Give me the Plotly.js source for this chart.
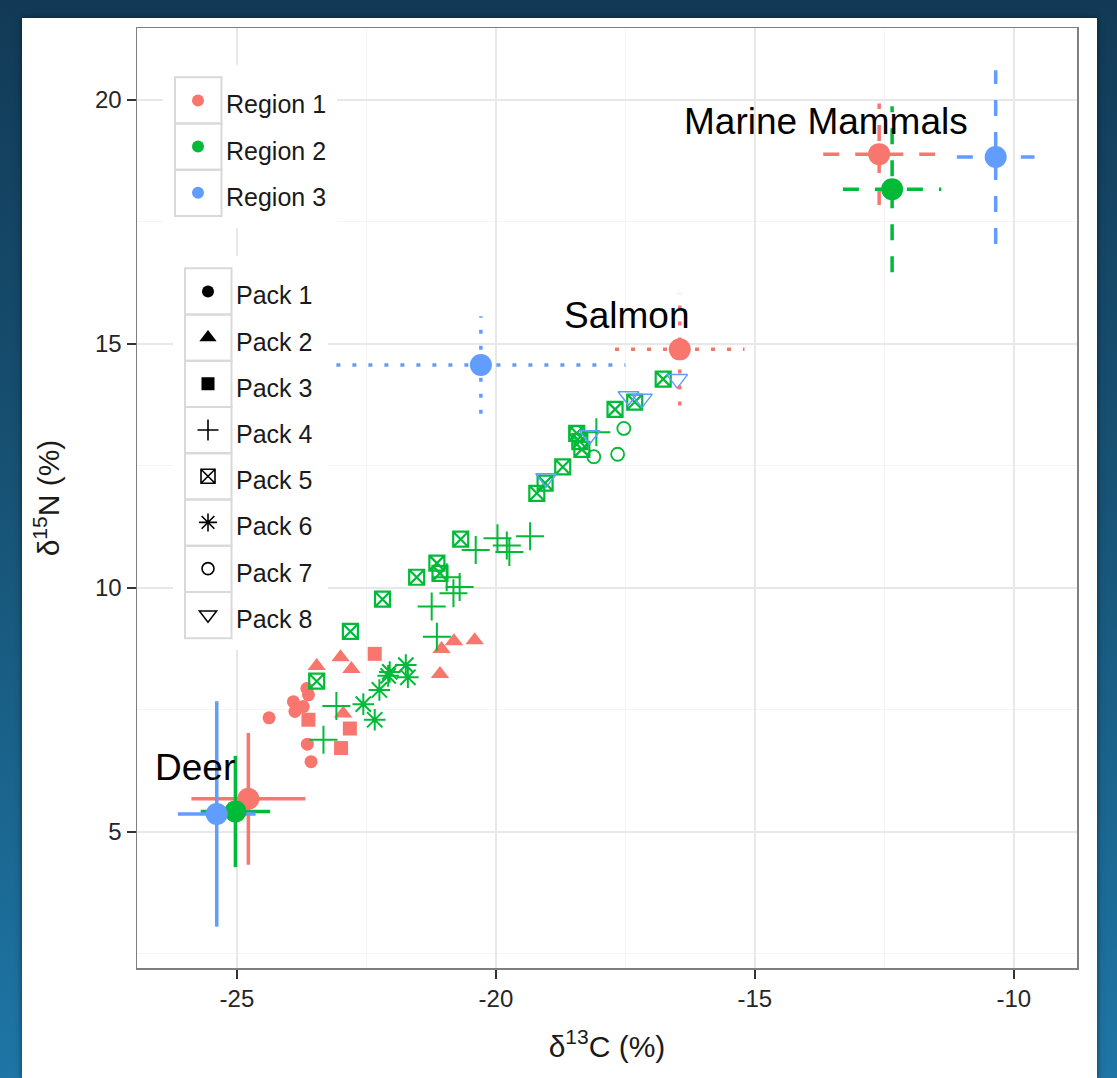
<!DOCTYPE html>
<html><head><meta charset="utf-8">
<script src="https://cdn.plot.ly/plotly-3.0.1.min.js"></script>
<style>
html,body{margin:0;padding:0;width:1117px;height:1078px;overflow:hidden;
background:linear-gradient(180deg,#123a56 0%,#175274 45%,#1e76a6 100%);}
#panel{position:absolute;left:22px;top:18px;width:1075px;height:1060px;background:#fff;box-shadow:0 0 6px rgba(0,0,0,0.5);}
#chart{width:1075px;height:1060px;}
</style></head><body><div id="panel"><div id="chart"></div></div>
<script>
// ---------- data ----------
const regionNames = ['Region 1', 'Region 2', 'Region 3'];
const packNames = ['Pack 1', 'Pack 2', 'Pack 3', 'Pack 4', 'Pack 5', 'Pack 6', 'Pack 7', 'Pack 8'];
const packRegion = [0, 0, 0, 1, 1, 1, 1, 2];

const pack1C = [-24.38, -23.91, -23.88, -23.72, -23.65, -23.62, -23.64, -23.57];
const pack1N = [7.34, 7.67, 7.47, 7.57, 7.94, 7.81, 6.80, 6.44];
const pack2C = [-23.46, -23.00, -22.79, -22.95, -21.05, -20.81, -20.41, -21.08];
const pack2N = [8.40, 8.58, 8.34, 7.43, 8.75, 8.91, 8.93, 8.24];
const pack3C = [-22.34, -23.62, -22.82, -22.99];
const pack3N = [8.65, 7.30, 7.12, 6.72];
const pack4C = [-23.33, -23.08, -21.14, -21.24, -20.82, -20.70, -20.95, -20.39, -19.97, -19.79, -19.74, -19.34, -18.06];
const pack4N = [6.89, 7.58, 9.00, 9.62, 9.89, 10.02, 10.22, 10.78, 11.02, 10.87, 10.74, 11.06, 13.19];
const pack5C = [-23.46, -22.81, -22.19, -21.53, -21.14, -21.08, -20.68, -19.21, -19.05, -18.71, -18.44, -18.38, -18.34, -17.70, -17.32, -16.77];
const pack5N = [8.09, 9.11, 9.77, 10.22, 10.51, 10.30, 11.00, 11.94, 12.15, 12.48, 13.17, 13.00, 12.84, 13.66, 13.81, 14.28];
const pack6C = [-22.56, -22.34, -22.25, -22.08, -22.05, -21.74, -21.70];
const pack6N = [7.62, 7.30, 7.91, 8.20, 8.28, 8.42, 8.17];
const pack7C = [-17.53, -17.65, -18.11, -18.45];
const pack7N = [13.27, 12.74, 12.69, 13.19];
const pack8C = [-19.03, -18.19, -17.44, -17.18, -16.50];
const pack8N = [12.25, 13.13, 13.93, 13.88, 14.28];

// prey sources: Deer, Salmon, Marine Mammals (mean and SD per region)
const sources = ['Deer', 'Salmon', 'Marine Mammals'];
const r1MeanC = [-24.78, -16.45, -12.60];
const r1MeanN = [5.68, 14.89, 18.89];
const r1SdC = [1.10, 1.25, 1.08];
const r1SdN = [1.35, 1.15, 1.04];
const r2MeanC = [-25.03, null, -12.35];
const r2MeanN = [5.42, null, 18.17];
const r2SdC = [0.67, null, 0.95];
const r2SdN = [1.14, null, 1.70];
const r3MeanC = [-25.39, -20.29, -10.35];
const r3MeanN = [5.37, 14.57, 18.83];
const r3SdC = [0.75, 2.79, 0.75];
const r3SdN = [2.31, 1.00, 1.78];

const labelText = ['Deer', 'Salmon', 'Marine Mammals'];
const labelC = [-25.81, -17.48, -13.62];
const labelN = [6.33, 15.59, 19.56];

const xTickVals = [-25, -20, -15, -10];
const xTickText = ['-25', '-20', '-15', '-10'];
const yTickVals = [5, 10, 15, 20];
const yTickText = ['5', '10', '15', '20'];

// ---------- styles ----------
const regionColors = ['#F8766D', '#00BA38', '#619CFF'];
const packStyle = [
  {symbol: 'circle', size: 13, lw: 0},
  {symbol: 'triangle-up', size: 16, lw: 0},
  {symbol: 'square', size: 14, lw: 0},
  {symbol: 'cross-thin-open', size: 20, lw: 2},
  {symbol: 'square-x-open', size: 15, lw: 2.2},
  {symbol: 'asterisk-open', size: 18, lw: 2},
  {symbol: 'circle-open', size: 13, lw: 1.8},
  {symbol: 'triangle-down-open', size: 18, lw: 1.5}
];
const sourceDash = ['solid', '4px,12px', '16px,16px'];
const FONT = '"Liberation Sans", Arial, sans-serif';

const packC = [pack1C, pack2C, pack3C, pack4C, pack5C, pack6C, pack7C, pack8C];
const packN = [pack1N, pack2N, pack3N, pack4N, pack5N, pack6N, pack7N, pack8N];
const meanC = [r1MeanC, r2MeanC, r3MeanC];
const meanN = [r1MeanN, r2MeanN, r3MeanN];
const sdC = [r1SdC, r2SdC, r3SdC];
const sdN = [r1SdN, r2SdN, r3SdN];

const traces = [];
// pack points
packNames.forEach((p, i) => {
  const col = regionColors[packRegion[i]];
  const st = packStyle[i];
  traces.push({
    type: 'scatter', mode: 'markers', name: p, showlegend: false,
    x: packC[i], y: packN[i],
    marker: {symbol: st.symbol, size: st.size, color: col,
             line: {color: col, width: st.lw}}
  });
});
// error bars for sources
for (let r = 0; r < 3; r++) {
  sources.forEach((s, k) => {
    const m = meanC[r][k], n = meanN[r][k];
    if (m === null) return;
    const ec = sdC[r][k], en = sdN[r][k];
    traces.push({type: 'scatter', mode: 'lines', showlegend: false, hoverinfo: 'skip',
      x: [m - ec, m + ec], y: [n, n],
      line: {color: regionColors[r], width: 3.5, dash: sourceDash[k]}});
    traces.push({type: 'scatter', mode: 'lines', showlegend: false, hoverinfo: 'skip',
      x: [m, m], y: [n - en, n + en],
      line: {color: regionColors[r], width: 3.5, dash: sourceDash[k]}});
  });
}
// means
for (let r = 0; r < 3; r++) {
  traces.push({type: 'scatter', mode: 'markers', showlegend: false,
    x: meanC[r], y: meanN[r], name: regionNames[r],
    marker: {symbol: 'circle', size: 22, color: regionColors[r]}});
}
// legend entries
regionNames.forEach((nm, r) => {
  traces.push({type: 'scatter', mode: 'markers', x: [null], y: [null],
    name: '<span style="font-size:25px">' + nm + '</span>', legend: 'legend', showlegend: true,
    marker: {symbol: 'circle', size: 12, color: regionColors[r]}});
});
packNames.forEach((nm, i) => {
  const st = packStyle[i];
  traces.push({type: 'scatter', mode: 'markers', x: [null], y: [null],
    name: '<span style="font-size:25px">' + nm + '</span>', legend: 'legend2', showlegend: true,
    marker: {symbol: st.symbol, size: Math.min(st.size, 16) - 1, color: '#000',
             line: {color: '#000', width: st.lw ? Math.min(st.lw, 1.6) : 0}}});
});

// ---------- legend decoration (page px -> paper) ----------
const PL = 137, PR = 1077, PT = 28, PB = 968;
const px2x = px => (px - PL) / (PR - PL);
const py2y = py => (PB - py) / (PB - PT);
const shapes = [];
function legendBoxes(bgL, bgR, bgT, bgB, boxL, boxW, top, rowH, n) {
  shapes.push({type: 'rect', xref: 'paper', yref: 'paper', layer: 'above',
    x0: px2x(bgL), x1: px2x(bgR), y0: py2y(bgB), y1: py2y(bgT),
    fillcolor: '#ffffff', line: {width: 0}});
  for (let i = 0; i < n; i++) {
    shapes.push({type: 'rect', xref: 'paper', yref: 'paper', layer: 'above',
      x0: px2x(boxL), x1: px2x(boxL + boxW), y0: py2y(top + (i + 1) * rowH), y1: py2y(top + i * rowH),
      fillcolor: 'rgba(0,0,0,0)', line: {color: '#d9d9d9', width: 2}});
  }
}
legendBoxes(163, 337, 65, 228, 175, 46.5, 77.3, 46.2, 3);
legendBoxes(173, 328, 256, 650, 185, 46.5, 268.3, 46.25, 8);

const annotations = labelText.map((t, i) => ({
  x: labelC[i], y: labelN[i], xref: 'x', yref: 'y', text: t, showarrow: false,
  font: {family: FONT, size: 37, color: '#000'}
}));

const legendFontSize = (46.2 - 3) / 1.3;
const layout = {
  width: 1075, height: 1060,
  margin: {l: 115, r: 20, t: 10, b: 110},
  paper_bgcolor: '#ffffff', plot_bgcolor: '#ffffff',
  font: {family: FONT, color: '#1a1a1a'},
  showlegend: true,
  legend: {x: px2x(170), y: py2y(72.3), xanchor: 'left', yanchor: 'top',
    bgcolor: 'rgba(0,0,0,0)', borderwidth: 0, itemwidth: 46, traceorder: 'normal',
    font: {family: FONT, size: legendFontSize, color: '#1a1a1a'}},
  legend2: {x: px2x(180), y: py2y(263.3), xanchor: 'left', yanchor: 'top',
    bgcolor: 'rgba(0,0,0,0)', borderwidth: 0, itemwidth: 46, traceorder: 'normal',
    font: {family: FONT, size: legendFontSize, color: '#1a1a1a'}},
  xaxis: {
    range: [-26.93, -8.78], tickmode: 'array', tickvals: xTickVals, ticktext: xTickText,
    showgrid: true, gridcolor: '#e8e8e8', gridwidth: 2, zeroline: false,
    minor: {tickvals: [-27.5, -22.5, -17.5, -12.5, -7.5], showgrid: true, gridcolor: '#f5f5f5', gridwidth: 1, ticks: ''},
    showline: true, mirror: true, linecolor: '#7f7f7f', linewidth: 1.5,
    ticks: 'outside', ticklen: 9, tickwidth: 1.5, tickcolor: '#333',
    tickfont: {family: FONT, size: 24, color: '#262626'},
    title: {text: 'δ<sup>13</sup>C (%)', font: {family: FONT, size: 30, color: '#1a1a1a'}, standoff: 24}
  },
  yaxis: {
    range: [2.213, 21.475], tickmode: 'array', tickvals: yTickVals, ticktext: yTickText,
    showgrid: true, gridcolor: '#e8e8e8', gridwidth: 2, zeroline: false,
    minor: {tickvals: [2.5, 7.5, 12.5, 17.5], showgrid: true, gridcolor: '#f5f5f5', gridwidth: 1, ticks: ''},
    showline: true, mirror: true, linecolor: '#7f7f7f', linewidth: 1.5,
    ticks: 'outside', ticklen: 9, tickwidth: 1.5, tickcolor: '#333',
    tickfont: {family: FONT, size: 24, color: '#262626'},
    title: {text: 'δ<sup>15</sup>N (%)', font: {family: FONT, size: 30, color: '#1a1a1a'}, standoff: 26}
  },
  shapes: shapes,
  annotations: annotations
};
Plotly.newPlot('chart', traces, layout, {displayModeBar: false, staticPlot: true});
</script></body></html>
